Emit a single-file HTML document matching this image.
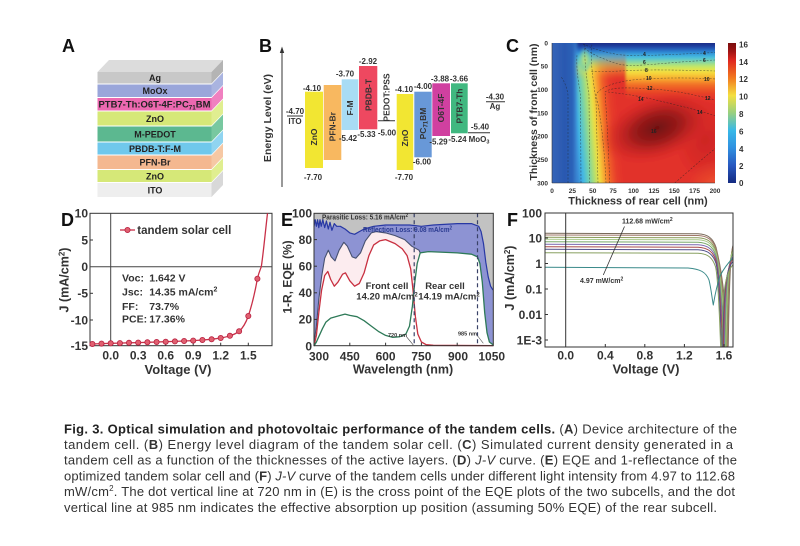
<!DOCTYPE html>
<html><head><meta charset="utf-8"><style>html,body{margin:0;padding:0;background:#fff;}svg{display:block}</style></head>
<body>
<svg width="800" height="546" viewBox="0 0 800 546" xmlns="http://www.w3.org/2000/svg" font-family="'Liberation Sans', Arial, sans-serif">
<defs>
  <linearGradient id="topg" gradientUnits="userSpaceOnUse" x1="0" y1="41" x2="0" y2="100">
    <stop offset="0" stop-color="#1a2a82"/><stop offset="0.062" stop-color="#1c3290"/>
    <stop offset="0.13" stop-color="#2458b8"/><stop offset="0.2" stop-color="#3090d8"/>
    <stop offset="0.28" stop-color="#48c0e0"/><stop offset="0.36" stop-color="#88d8a0"/>
    <stop offset="0.44" stop-color="#c8e860"/><stop offset="0.52" stop-color="#f4e040"/>
    <stop offset="0.63" stop-color="#f8b030"/><stop offset="0.74" stop-color="#f27028"/>
    <stop offset="0.87" stop-color="#e84428"/><stop offset="1" stop-color="#e2302a"/>
  </linearGradient>
  <linearGradient id="leftA" gradientUnits="userSpaceOnUse" x1="552" y1="0" x2="578" y2="0">
    <stop offset="0" stop-color="#3565b8"/><stop offset="0.5" stop-color="#2a58b0"/>
    <stop offset="0.8" stop-color="#2c62b8"/><stop offset="0.93" stop-color="#3a84d0" stop-opacity="0.8"/>
    <stop offset="1" stop-color="#3a84d0" stop-opacity="0"/>
  </linearGradient>
  <linearGradient id="leftB" gradientUnits="userSpaceOnUse" x1="569" y1="136" x2="621" y2="131.5">
    <stop offset="0" stop-color="#2c62b8"/><stop offset="0.108" stop-color="#3a8cd8"/>
    <stop offset="0.2" stop-color="#40b8e8"/><stop offset="0.31" stop-color="#70d0b0"/>
    <stop offset="0.415" stop-color="#b0e070"/><stop offset="0.51" stop-color="#f0e040"/>
    <stop offset="0.615" stop-color="#f8a030"/><stop offset="0.72" stop-color="#f06028"/>
    <stop offset="0.846" stop-color="#e63c2a"/><stop offset="1" stop-color="#e2302a"/>
  </linearGradient>
  <linearGradient id="mBg" gradientUnits="userSpaceOnUse" x1="0" y1="52" x2="0" y2="80">
    <stop offset="0" stop-color="#000"/><stop offset="1" stop-color="#fff"/>
  </linearGradient>
  <mask id="mB" maskUnits="userSpaceOnUse" x="540" y="30" width="200" height="170">
    <rect x="540" y="30" width="200" height="170" fill="url(#mBg)"/>
  </mask>
  <radialGradient id="core">
    <stop offset="0" stop-color="#6e1010" stop-opacity="1"/>
    <stop offset="0.4" stop-color="#9a1a1a" stop-opacity="0.95"/>
    <stop offset="0.75" stop-color="#c82424" stop-opacity="0.5"/>
    <stop offset="1" stop-color="#e2302a" stop-opacity="0"/>
  </radialGradient>
  <radialGradient id="rdark">
    <stop offset="0" stop-color="#c82222" stop-opacity="0.8"/>
    <stop offset="1" stop-color="#c82222" stop-opacity="0"/>
  </radialGradient>
  <radialGradient id="br">
    <stop offset="0" stop-color="#f06030" stop-opacity="0.7"/>
    <stop offset="1" stop-color="#f06030" stop-opacity="0"/>
  </radialGradient>
  <radialGradient id="hook">
    <stop offset="0" stop-color="#c8e470" stop-opacity="1"/>
    <stop offset="0.6" stop-color="#80d0a0" stop-opacity="0.8"/>
    <stop offset="1" stop-color="#50b8e0" stop-opacity="0"/>
  </radialGradient>
  <linearGradient id="cbar" x1="0" y1="0" x2="0" y2="1">
    <stop offset="0" stop-color="#7a0e0e"/><stop offset="0.06" stop-color="#a01414"/>
    <stop offset="0.125" stop-color="#e02820"/><stop offset="0.25" stop-color="#f27a20"/>
    <stop offset="0.375" stop-color="#f4e040"/><stop offset="0.5" stop-color="#98d080"/>
    <stop offset="0.625" stop-color="#38b8e8"/><stop offset="0.75" stop-color="#3090e0"/>
    <stop offset="0.875" stop-color="#2858c0"/><stop offset="1" stop-color="#142a80"/>
  </linearGradient>
  <clipPath id="cclip"><rect x="552" y="43" width="163" height="140"/></clipPath>
  <clipPath id="fclip"><rect x="545" y="213" width="188" height="134"/></clipPath>
  <filter id="bl" x="-5%" y="-5%" width="110%" height="110%"><feGaussianBlur stdDeviation="1.3"/></filter>
</defs>

<rect width="800" height="546" fill="#fff"/>

<!-- ============ PANEL A ============ -->
<text x="62" y="52" font-size="18" font-weight="bold" fill="#111">A</text>
<g>
  <polygon points="97.5,72 109,60 223,60 211.5,72" fill="#dcdcdc"/>
  <polygon points="211.5,72 223,60 223,71.5 211.5,83.5" fill="#b4b4b4"/>
  <polygon points="211.5,84.5 223,72.5 223,85 211.5,97" fill="#aab4e0"/>
  <polygon points="211.5,98 223,86 223,98.5 211.5,110.5" fill="#f080c0"/>
  <polygon points="211.5,111.5 223,99.5 223,113.5 211.5,125.5" fill="#e0ee90"/>
  <polygon points="211.5,126.5 223,114.5 223,129.5 211.5,141.5" fill="#78c8a0"/>
  <polygon points="211.5,142.5 223,130.5 223,142.5 211.5,154.5" fill="#90d4f0"/>
  <polygon points="211.5,155.5 223,143.5 223,157 211.5,169" fill="#f6c8a4"/>
  <polygon points="211.5,170 223,158 223,170 211.5,182" fill="#e0ee90"/>
  <polygon points="211.5,183 223,171 223,185 211.5,197" fill="#d8d8d8"/>
  <rect x="97.5" y="72" width="114" height="11.5" fill="#c8c8c8"/>
  <rect x="97.5" y="84.5" width="114" height="12.5" fill="#9aa6da"/>
  <rect x="97.5" y="98" width="114" height="12.5" fill="#ec68b0"/>
  <rect x="97.5" y="111.5" width="114" height="14" fill="#d6e878"/>
  <rect x="97.5" y="126.5" width="114" height="15" fill="#5cb890"/>
  <rect x="97.5" y="142.5" width="114" height="12" fill="#70c8ec"/>
  <rect x="97.5" y="155.5" width="114" height="13.5" fill="#f4b890"/>
  <rect x="97.5" y="170" width="114" height="12" fill="#d6e878"/>
  <rect x="97.5" y="183" width="114" height="14" fill="#eeeeee"/>
  <g font-size="9" font-weight="bold" fill="#222" text-anchor="middle">
    <text x="155" y="81">Ag</text>
    <text x="155" y="94">MoOx</text>
    <text x="154.5" y="107.5" textLength="112" lengthAdjust="spacingAndGlyphs">PTB7-Th:O6T-4F:PC<tspan font-size="6" dy="2">71</tspan><tspan dy="-2">BM</tspan></text>
    <text x="155" y="121.8">ZnO</text>
    <text x="155" y="137.3">M-PEDOT</text>
    <text x="155" y="151.8">PBDB-T:F-M</text>
    <text x="155" y="165.5">PFN-Br</text>
    <text x="155" y="179.3">ZnO</text>
    <text x="155" y="193.3">ITO</text>
  </g>
</g>

<!-- ============ PANEL B ============ -->
<text x="259" y="52" font-size="18" font-weight="bold" fill="#111">B</text>
<line x1="282" y1="187" x2="282" y2="51" stroke="#333" stroke-width="1"/>
<polygon points="279.8,53 282,46.5 284.2,53" fill="#333"/>
<text transform="translate(271,118) rotate(-90)" text-anchor="middle" font-size="10.5" font-weight="bold" fill="#333">Energy Level (eV)</text>
<rect x="305" y="91.7" width="18" height="76.3" fill="#f2e632"/>
<rect x="323.7" y="85" width="17.6" height="75" fill="#f8b860"/>
<rect x="341.7" y="79.3" width="16.6" height="50.7" fill="#a8dcf4"/>
<rect x="359" y="66" width="18.3" height="63.3" fill="#ee4860"/>
<rect x="396.7" y="94" width="16.6" height="76" fill="#f2e632"/>
<rect x="414.3" y="91.7" width="17.4" height="65.6" fill="#6898d8"/>
<rect x="432.3" y="83.3" width="17.7" height="52.7" fill="#d040a0"/>
<rect x="451" y="83.3" width="16.7" height="50" fill="#40b880"/>
<g stroke="#333" stroke-width="1">
  <line x1="287" y1="116" x2="303" y2="116"/>
  <line x1="378" y1="120.7" x2="395" y2="120.7"/>
  <line x1="468" y1="132.7" x2="490" y2="132.7"/>
  <line x1="486" y1="101.7" x2="505" y2="101.7"/>
</g>
<g font-size="8" font-weight="bold" fill="#333" text-anchor="middle">
  <text x="295" y="114">-4.70</text><text x="295" y="124">ITO</text>
  <text x="312" y="91">-4.10</text><text x="313" y="180">-7.70</text>
  <text x="345" y="76.5">-3.70</text><text x="348" y="141">-5.42</text>
  <text x="368" y="64">-2.92</text><text x="366.5" y="137">-5.33</text>
  <text x="387" y="135.5">-5.00</text>
  <text x="404" y="92">-4.10</text><text x="404" y="180">-7.70</text>
  <text x="423" y="89">-4.00</text><text x="422" y="164.5">-6.00</text>
  <text x="440" y="81.5">-3.88</text><text x="438.5" y="144.5">-5.29</text>
  <text x="459" y="81.5">-3.66</text><text x="457.5" y="142">-5.24</text>
  <text x="479" y="142">MoO<tspan font-size="5.5" dy="1.5">3</tspan></text>
  <text x="480" y="129.5">-5.40</text>
  <text x="495" y="99.5">-4.30</text><text x="495" y="109">Ag</text>
</g>
<g font-size="8.5" font-weight="bold" fill="#333" text-anchor="middle">
  <text transform="translate(317,137) rotate(-90)">ZnO</text>
  <text transform="translate(335.3,126.7) rotate(-90)">PFN-Br</text>
  <text transform="translate(353,108) rotate(-90)">F-M</text>
  <text transform="translate(371.3,95) rotate(-90)">PBDB-T</text>
  <text transform="translate(389.7,97.5) rotate(-90)">PEDOT:PSS</text>
  <text transform="translate(408,138) rotate(-90)">ZnO</text>
  <text transform="translate(426,123.5) rotate(-90)">PC<tspan font-size="6" dy="1.5">71</tspan><tspan dy="-1.5">BM</tspan></text>
  <text transform="translate(444,108) rotate(-90)">O6T-4F</text>
  <text transform="translate(462.3,106) rotate(-90)">PTB7-Th</text>
</g>

<!-- ============ PANEL C ============ -->
<text x="506" y="52" font-size="18" font-weight="bold" fill="#111">C</text>
<g clip-path="url(#cclip)">
  <g filter="url(#bl)">
    <rect x="545" y="36" width="180" height="155" fill="#e2302a"/>
    <rect x="545" y="36" width="180" height="64" fill="url(#topg)"/>
    <rect x="545" y="100" width="180" height="93" fill="#e2302a"/>
    <ellipse cx="705" cy="140" rx="30" ry="40" fill="url(#rdark)"/>
    <rect x="566" y="40" width="60" height="155" fill="url(#leftB)" mask="url(#mB)"/>
    <ellipse cx="585" cy="60" rx="7" ry="13" fill="url(#hook)"/>
    <rect x="545" y="36" width="33" height="155" fill="url(#leftA)"/>
    <ellipse cx="657" cy="128" rx="60" ry="34" fill="url(#core)" transform="rotate(-18 657 128)"/>
    <ellipse cx="718" cy="186" rx="32" ry="26" fill="url(#br)"/>
  </g>
  <g fill="none" stroke="#222" stroke-width="0.55" stroke-dasharray="2 1.5" opacity="0.65">
    <path d="M583,44 C592,48 600,51 615,54 S660,55 716,52.5"/>
    <path d="M584.7,48 C590,53 598,57 614.7,63 S660,62 716,60"/>
    <path d="M591.3,71.3 C600,72 610,71.5 630,70.5 S680,70 716,71"/>
    <path d="M606,183 C605,160 602,120 596,95 C600,86 620,80 648,78.7 S700,78 716,79"/>
    <path d="M609.7,183 C609,160 607,120 605,92 C610,88 620,87 648,88.7 S690,94 716,100"/>
    <path d="M608,92 C625,94 640,96 660,101 S690,108 716,116"/>
    <path d="M568,183 L568,95 C567,88 564,80 561,77"/>
    <path d="M581,183 L580.5,95 C579,85 576,70 577,55"/>
    <path d="M589.7,183 L589,95 C587,80 584,62 585,44"/>
    <path d="M598,183 L596,100 C593,80 590,60 592,44"/>
    <path d="M674.7,183 C690,170 703,158 716,148"/>
  </g>
  <g font-size="5" font-weight="bold" fill="#222">
    <text x="646" y="80">10</text><text x="647" y="90">12</text><text x="638" y="101">14</text>
    <text x="651" y="133">16</text><text x="704" y="81">10</text><text x="705" y="100">12</text>
    <text x="697" y="114">14</text><text x="643" y="56">4</text><text x="643" y="64">6</text>
    <text x="645" y="72">8</text><text x="703" y="55">4</text><text x="703" y="62">6</text>
  </g>
</g>
<rect x="728" y="43" width="8" height="140" fill="url(#cbar)"/>
<g font-size="8" font-weight="bold" fill="#333">
  <text x="739" y="47.5">16</text><text x="739" y="64.8">14</text><text x="739" y="82.2">12</text>
  <text x="739" y="99.6">10</text><text x="739" y="117">8</text><text x="739" y="134.4">6</text>
  <text x="739" y="151.8">4</text><text x="739" y="169.2">2</text><text x="739" y="186">0</text>
</g>
<g stroke="#333" stroke-width="0.6">
  <line x1="552" y1="43" x2="552" y2="183"/><line x1="552" y1="183" x2="715" y2="183"/>
</g>
<g font-size="6.5" font-weight="bold" fill="#333" text-anchor="end">
  <text x="548" y="45.3">0</text><text x="548" y="68.6">50</text><text x="548" y="92">100</text>
  <text x="548" y="115.3">150</text><text x="548" y="138.6">200</text><text x="548" y="162">250</text>
  <text x="548" y="185.3">300</text>
</g>
<g font-size="6.5" font-weight="bold" fill="#333" text-anchor="middle">
  <text x="552" y="193">0</text><text x="572.4" y="193">25</text><text x="592.8" y="193">50</text>
  <text x="613.1" y="193">75</text><text x="633.5" y="193">100</text><text x="653.9" y="193">125</text>
  <text x="674.3" y="193">150</text><text x="694.6" y="193">175</text><text x="715" y="193">200</text>
</g>
<text x="638" y="204.5" font-size="11" font-weight="bold" fill="#333" text-anchor="middle">Thickness of rear cell (nm)</text>
<text transform="translate(537,112) rotate(-90)" font-size="10.5" font-weight="bold" fill="#333" text-anchor="middle">Thickness of front cell (nm)</text>

<!-- ============ PANEL D ============ -->
<text x="61" y="226" font-size="18" font-weight="bold" fill="#111">D</text>
<rect x="90" y="213.3" width="182" height="132.4" fill="none" stroke="#333" stroke-width="1"/>
<line x1="90" y1="266.7" x2="272" y2="266.7" stroke="#444" stroke-width="1"/>
<line x1="110.7" y1="213.3" x2="110.7" y2="345.7" stroke="#444" stroke-width="1"/>
<g stroke="#333" stroke-width="1">
  <line x1="90" y1="240" x2="93" y2="240"/><line x1="90" y1="293.3" x2="93" y2="293.3"/><line x1="90" y1="320" x2="93" y2="320"/>
  <line x1="138.2" y1="345.7" x2="138.2" y2="342.7"/><line x1="165.7" y1="345.7" x2="165.7" y2="342.7"/>
  <line x1="193.2" y1="345.7" x2="193.2" y2="342.7"/><line x1="220.7" y1="345.7" x2="220.7" y2="342.7"/>
  <line x1="248.3" y1="345.7" x2="248.3" y2="342.7"/>
</g>
<g font-size="12" font-weight="bold" fill="#333" text-anchor="end">
  <text x="88" y="217.6">10</text><text x="88" y="244.3">5</text><text x="88" y="271">0</text>
  <text x="88" y="297.6">-5</text><text x="88" y="324.3">-10</text><text x="88" y="350">-15</text>
</g>
<g font-size="12" font-weight="bold" fill="#333" text-anchor="middle">
  <text x="110.7" y="359.5">0.0</text><text x="138.2" y="359.5">0.3</text><text x="165.7" y="359.5">0.6</text>
  <text x="193.2" y="359.5">0.9</text><text x="220.7" y="359.5">1.2</text><text x="248.3" y="359.5">1.5</text>
</g>
<text x="178" y="374" font-size="13" font-weight="bold" fill="#333" text-anchor="middle">Voltage (V)</text>
<text transform="translate(68.5,280) rotate(-90)" font-size="12.5" font-weight="bold" fill="#333" text-anchor="middle">J (mA/cm<tspan font-size="8" dy="-4">2</tspan><tspan dy="4">)</tspan></text>
<path d="M92.4,344 L101.5,343.6 L110.7,343.3 L119.9,343.1 L129,342.8 L138.2,342.6 L147.4,342.3 L156.6,342 L165.7,341.7 L174.9,341.4 L184.1,341 L193.2,340.6 L202.4,340 L211.6,339.3 L220.7,338 C225,337.2 227.5,336.7 229.9,335.8 C234,334.5 236.5,333.3 239.1,331.3 C243.5,327.5 246,322.5 248.3,316 C252,305 255,292 257.4,278.7 C259,272 260.3,269.5 261.3,266.7 C263,256 265,235 267.5,213.3" fill="none" stroke="#c83048" stroke-width="1.3"/>
<g fill="#e06070" stroke="#b82040" stroke-width="0.8">
  <circle cx="92.4" cy="344" r="2.6"/><circle cx="101.5" cy="343.6" r="2.6"/><circle cx="110.7" cy="343.3" r="2.6"/>
  <circle cx="119.9" cy="343.1" r="2.6"/><circle cx="129" cy="342.8" r="2.6"/><circle cx="138.2" cy="342.6" r="2.6"/>
  <circle cx="147.4" cy="342.3" r="2.6"/><circle cx="156.6" cy="342" r="2.6"/><circle cx="165.7" cy="341.7" r="2.6"/>
  <circle cx="174.9" cy="341.4" r="2.6"/><circle cx="184.1" cy="341" r="2.6"/><circle cx="193.2" cy="340.6" r="2.6"/>
  <circle cx="202.4" cy="340" r="2.6"/><circle cx="211.6" cy="339.3" r="2.6"/><circle cx="220.7" cy="338" r="2.6"/>
  <circle cx="229.9" cy="335.8" r="2.6"/><circle cx="239.1" cy="331.3" r="2.6"/><circle cx="248.3" cy="316" r="2.6"/>
  <circle cx="257.4" cy="278.7" r="2.6"/>
</g>
<line x1="120" y1="230" x2="135" y2="230" stroke="#c83048" stroke-width="1.3"/>
<circle cx="127.5" cy="230" r="2.6" fill="#e06070" stroke="#b82040" stroke-width="0.8"/>
<text x="137.3" y="234" font-size="11.5" font-weight="bold" fill="#333" textLength="94" lengthAdjust="spacingAndGlyphs">tandem solar cell</text>
<g font-size="10.5" font-weight="bold" fill="#333">
  <text x="122" y="281.7">Voc:</text><text x="149.3" y="281.7">1.642 V</text>
  <text x="122" y="295.7">Jsc:</text><text x="149.3" y="295.7">14.35 mA/cm<tspan font-size="7" dy="-4">2</tspan></text>
  <text x="122" y="310">FF:</text><text x="149.3" y="310">73.7%</text>
  <text x="122" y="322.7">PCE:</text><text x="149.3" y="322.7">17.36%</text>
</g>

<!-- ============ PANEL E ============ -->
<text x="281" y="226" font-size="18" font-weight="bold" fill="#111">E</text>
<rect x="314" y="213.3" width="179.3" height="132.4" fill="#c2c2c2"/>
<polygon fill="#8d93d3" points="314,226.3 315.2,219.7 316.4,226.3 317.6,219.7 318.8,227.6 320,219.7 321.2,226.3 322.8,219.7 324.7,227.6 326.4,221 328.3,229 330,222.3 331.9,230.3 334.3,223.6 336.7,226.3 340.3,226.3 345,229 349.8,232.9 354.6,234.3 359.3,231.6 364.1,229 373.7,226.3 385.6,225 409.5,225 421.4,226.3 433.3,225 457.2,223.6 471.5,223.6 478.7,226.3 481.1,231.6 483.5,243.6 485.8,262.2 488.2,276.8 490.6,286.2 493,290.1 493,346 314,346"/>
<polygon fill="#fcecef" points="314,343.3 316.4,326.1 318.8,299.5 321.6,276.8 324.7,258.2 328.3,250.2 331.2,256.9 335,260.9 339.1,250.2 343.8,242.3 347.4,246.3 352.2,256.9 355.8,258.2 360.5,252.9 365.3,240.9 371.3,232.9 376.1,231.6 385.6,232.9 395.1,235.6 404.7,239.6 411.9,246.3 419,250.2 420.2,252.9 428.5,251.6 457.2,252.9 471.5,254.2 477.5,256.9 479.9,263.5 482.3,282.2 484.7,312.8 487,332.7 489.4,342 493,344.7 493,346 314,346"/>
<polygon fill="#ffffff" points="314,346 316.4,335.4 318.8,312.8 321.6,290.1 324.7,275.5 327.8,271.5 330.7,279.5 334.3,286.2 337.9,282.2 342.6,274.2 345.5,272.9 349.8,280.8 354.6,286.2 359.3,283.5 364.1,272.9 368.9,255.6 373.7,244.9 379.6,240.9 385.6,239.6 395.1,243.6 402.3,248.9 407.1,255.6 410.7,268.9 413,290.1 415.4,316.7 417.8,334 421.4,342 426.2,344.7 433.3,345.3 493,345.6 493,346"/>
<polygon fill="#ffffff" points="405.9,346 405.9,334 409.5,326.1 412.4,306.1 414.8,282.2 417.2,263.5 420.2,252.9 428.5,251.6 457.2,252.9 471.5,254.2 477.5,256.9 479.9,263.5 482.3,282.2 484.7,312.8 487,332.7 489.4,342 493,344.7 493,346"/>
<g fill="none" stroke-linejoin="round">
  <polyline stroke="#2838a4" stroke-width="1.2" points="314,226.3 315.2,219.7 316.4,226.3 317.6,219.7 318.8,227.6 320,219.7 321.2,226.3 322.8,219.7 324.7,227.6 326.4,221 328.3,229 330,222.3 331.9,230.3 334.3,223.6 336.7,226.3 340.3,226.3 345,229 349.8,232.9 354.6,234.3 359.3,231.6 364.1,229 373.7,226.3 385.6,225 409.5,225 421.4,226.3 433.3,225 457.2,223.6 471.5,223.6 478.7,226.3 481.1,231.6 483.5,243.6 485.8,262.2 488.2,276.8 490.6,286.2 493,290.1"/>
  <polyline stroke="#465070" stroke-width="1.1" points="314,343.3 316.4,326.1 318.8,299.5 321.6,276.8 324.7,258.2 328.3,250.2 331.2,256.9 335,260.9 339.1,250.2 343.8,242.3 347.4,246.3 352.2,256.9 355.8,258.2 360.5,252.9 365.3,240.9 371.3,232.9 376.1,231.6 385.6,232.9 395.1,235.6 404.7,239.6 411.9,246.3 419,250.2 420.2,252.9"/>
  <polyline stroke="#c83040" stroke-width="1.3" points="314,346 316.4,335.4 318.8,312.8 321.6,290.1 324.7,275.5 327.8,271.5 330.7,279.5 334.3,286.2 337.9,282.2 342.6,274.2 345.5,272.9 349.8,280.8 354.6,286.2 359.3,283.5 364.1,272.9 368.9,255.6 373.7,244.9 379.6,240.9 385.6,239.6 395.1,243.6 402.3,248.9 407.1,255.6 410.7,268.9 413,290.1 415.4,316.7 417.8,334 421.4,342 426.2,344.7 433.3,345.3 493,345.6"/>
  <polyline stroke="#2e7a58" stroke-width="1.3" points="314,346 316.4,342 318.8,336.7 322.4,328.7 325.9,322.1 330.7,318.1 335.5,316.7 340.3,315.4 345,314.1 349.8,315.4 357,316.7 364.1,320.7 371.3,326.1 378.4,331.4 385.6,335.4 392.8,337.4 399.9,336.7 405.9,334 409.5,326.1 412.4,306.1 414.8,282.2 417.2,263.5 420.2,252.9 428.5,251.6 457.2,252.9 471.5,254.2 477.5,256.9 479.9,263.5 482.3,282.2 484.7,312.8 487,332.7 489.4,342 493,344.7"/>
</g>
<g stroke="#3a4268" stroke-width="1.2" stroke-dasharray="4 3">
  <line x1="414.2" y1="213.3" x2="414.2" y2="345.7"/>
  <line x1="477.5" y1="213.3" x2="477.5" y2="345.7"/>
</g>
<rect x="314" y="213.3" width="179.3" height="132.4" fill="none" stroke="#333" stroke-width="1"/>
<g stroke="#333" stroke-width="1">
  <line x1="314" y1="239.6" x2="317" y2="239.6"/><line x1="314" y1="266.2" x2="317" y2="266.2"/>
  <line x1="314" y1="292.8" x2="317" y2="292.8"/><line x1="314" y1="319.4" x2="317" y2="319.4"/>
  <line x1="349.8" y1="345.7" x2="349.8" y2="342.7"/><line x1="385.6" y1="345.7" x2="385.6" y2="342.7"/>
  <line x1="421.4" y1="345.7" x2="421.4" y2="342.7"/><line x1="457.2" y1="345.7" x2="457.2" y2="342.7"/>
</g>
<g font-size="7" font-weight="bold">
  <text x="322" y="219.5" fill="#333" textLength="86" lengthAdjust="spacingAndGlyphs">Parasitic Loss: 5.16 mA/cm<tspan font-size="5" dy="-2.5">2</tspan></text>
  <text x="363" y="232" fill="#2a3a90" textLength="89" lengthAdjust="spacingAndGlyphs">Reflection Loss: 9.08 mA/cm<tspan font-size="5" dy="-2.5">2</tspan></text>
</g>
<g font-size="9.5" font-weight="bold" fill="#333" text-anchor="middle">
  <text x="387" y="289">Front cell</text>
  <text x="387" y="299.5">14.20 mA/cm<tspan font-size="6" dy="-3">2</tspan></text>
  <text x="445" y="289">Rear cell</text>
  <text x="449" y="299.5">14.19 mA/cm<tspan font-size="6" dy="-3">2</tspan></text>
</g>
<g font-size="5.5" font-weight="bold" fill="#333">
  <text x="388" y="337">720 nm</text>
  <text x="458" y="335.5">985 nm</text>
</g>
<g stroke="#555" stroke-width="0.6">
  <line x1="406.7" y1="337" x2="413.3" y2="345"/>
  <line x1="477.3" y1="335.5" x2="483.3" y2="343.3"/>
</g>
<g font-size="12" font-weight="bold" fill="#333" text-anchor="end">
  <text x="312" y="217.5">100</text><text x="312" y="244">80</text><text x="312" y="270.5">60</text>
  <text x="312" y="297">40</text><text x="312" y="323.7">20</text><text x="312" y="350.3">0</text>
</g>
<g font-size="12" font-weight="bold" fill="#333" text-anchor="middle">
  <text x="319" y="360.5">300</text><text x="349.8" y="360.5">450</text><text x="385.6" y="360.5">600</text>
  <text x="421.4" y="360.5">750</text><text x="458" y="360.5">900</text><text x="491.7" y="360.5">1050</text>
</g>
<text x="403" y="373.5" font-size="12.5" font-weight="bold" fill="#333" text-anchor="middle">Wavelength (nm)</text>
<text transform="translate(291.5,277) rotate(-90)" font-size="12" font-weight="bold" fill="#333" text-anchor="middle">1-R, EQE (%)</text>

<!-- ============ PANEL F ============ -->
<text x="507" y="226" font-size="18" font-weight="bold" fill="#111">F</text>
<g clip-path="url(#fclip)" fill="none" stroke-width="1" stroke-linejoin="round">
  <path stroke="#7a6a5a" d="M545,233.3 L698,233.8 C708,234.3 713,238.3 716,247.3 C718,255.3 725.5,283.3 727,346 L728.2,346 C729,300 730,255.3 733,245.3"/>
  <path stroke="#a07868" d="M545,235 L698,235.5 C708,236 713,240 716,249 C718,257 724.7,285 726.2,346 L727.4,346 C728.2,300 729.2,257 733,247"/>
  <path stroke="#8a9a58" d="M545,237.3 L698,237.8 C708,238.3 713,242.3 716,251.3 C718,259.3 723.9,287.3 725.4,346 L726.6,346 C727.4,300 728.4,259.3 733,249.3"/>
  <path stroke="#a8c888" d="M545,239.3 L698,239.8 C708,240.3 713,244.3 716,253.3 C718,261.3 723.1,289.3 724.6,346 L725.8,346 C726.6,300 727.6,261.3 733,251.3"/>
  <path stroke="#78a868" d="M545,241.7 L698,242.2 C708,242.7 713,246.7 716,255.7 C718,263.7 722.3,291.7 723.8,346 L725,346 C725.8,300 726.8,263.7 733,253.7"/>
  <path stroke="#7a68b0" d="M545,244.3 L698,244.8 C708,245.3 713,249.3 716,258.3 C718,266.3 721.5,294.3 723,346 L724.2,346 C725,300 726,266.3 733,256.3"/>
  <path stroke="#a84848" d="M545,246.7 L698,247.2 C708,247.7 713,251.7 716,260.7 C718,268.7 720.7,296.7 722.2,346 L723.4,346 C724.2,300 725.2,268.7 733,258.7"/>
  <path stroke="#50508a" d="M545,249.3 L698,249.8 C708,250.3 713,254.3 716,263.3 C718,271.3 719.9,299.3 721.4,346 L722.6,346 C723.4,300 724.4,271.3 733,261.3"/>
  <path stroke="#88a060" d="M545,252.7 L698,253.2 C708,253.7 712.5,257.7 715.5,266.7 C717.5,274.7 719.1,302.7 720.6,346 L721.8,346 C722.6,300 723.6,274.7 733,264.7"/>
  <path stroke="#3a8a8a" d="M545,267.3 L688,268 C700,269 706,272 709,280 C711,288 712,298 713.3,305 C714.5,298 716,288 720,276 C724,268 729,262 733,258"/>
</g>
<rect x="545" y="213" width="188" height="134" fill="none" stroke="#333" stroke-width="1"/>
<line x1="565.7" y1="213" x2="565.7" y2="347" stroke="#333" stroke-width="1"/>
<g stroke="#333" stroke-width="1">
  <line x1="545" y1="238" x2="548" y2="238"/><line x1="545" y1="263.5" x2="548" y2="263.5"/>
  <line x1="545" y1="289" x2="548" y2="289"/><line x1="545" y1="314.5" x2="548" y2="314.5"/>
  <line x1="545" y1="340" x2="548" y2="340"/>
  <line x1="605.3" y1="347" x2="605.3" y2="344"/><line x1="644.8" y1="347" x2="644.8" y2="344"/>
  <line x1="684.4" y1="347" x2="684.4" y2="344"/><line x1="724" y1="347" x2="724" y2="344"/>
</g>
<line x1="603.3" y1="275" x2="624.5" y2="226.5" stroke="#333" stroke-width="0.8"/>
<g font-size="7" font-weight="bold" fill="#333">
  <text x="622" y="223.5">112.68 mW/cm<tspan font-size="5" dy="-2.5">2</tspan></text>
  <text x="580" y="283">4.97 mW/cm<tspan font-size="5" dy="-2.5">2</tspan></text>
</g>
<g font-size="12" font-weight="bold" fill="#333" text-anchor="end">
  <text x="542" y="217.3">100</text><text x="542" y="242.3">10</text><text x="542" y="267.8">1</text>
  <text x="542" y="293.3">0.1</text><text x="542" y="318.8">0.01</text><text x="542" y="344.3">1E-3</text>
</g>
<g font-size="12" font-weight="bold" fill="#333" text-anchor="middle">
  <text x="565.7" y="359.5">0.0</text><text x="605.3" y="359.5">0.4</text><text x="644.8" y="359.5">0.8</text>
  <text x="684.4" y="359.5">1.2</text><text x="724" y="359.5">1.6</text>
</g>
<text x="646" y="373.5" font-size="13" font-weight="bold" fill="#333" text-anchor="middle">Voltage (V)</text>
<text transform="translate(514,278) rotate(-90)" font-size="12.5" font-weight="bold" fill="#333" text-anchor="middle">J (mA/cm<tspan font-size="8" dy="-4">2</tspan><tspan dy="4">)</tspan></text>

<!-- ============ CAPTION ============ -->
<g font-size="13" fill="#333">
  <text x="64" y="433.3" textLength="673" lengthAdjust="spacing"><tspan font-weight="bold" fill="#222">Fig. 3. Optical simulation and photovoltaic performance of the tandem cells.</tspan> (<tspan font-weight="bold">A</tspan>) Device architecture of the</text>
  <text x="64" y="449" textLength="669" lengthAdjust="spacing">tandem cell. (<tspan font-weight="bold">B</tspan>) Energy level diagram of the tandem solar cell. (<tspan font-weight="bold">C</tspan>) Simulated current density generated in a</text>
  <text x="64" y="464.7" textLength="673" lengthAdjust="spacing">tandem cell as a function of the thicknesses of the active layers. (<tspan font-weight="bold">D</tspan>) <tspan font-style="italic">J-V</tspan> curve. (<tspan font-weight="bold">E</tspan>) EQE and 1-reflectance of the</text>
  <text x="64" y="480.4" textLength="671" lengthAdjust="spacing">optimized tandem solar cell and (<tspan font-weight="bold">F</tspan>) <tspan font-style="italic">J-V</tspan> curve of the tandem cells under different light intensity from 4.97 to 112.68</text>
  <text x="64" y="496.1" textLength="671" lengthAdjust="spacing">mW/cm<tspan font-size="8" dy="-5">2</tspan><tspan dy="5">. The dot vertical line at 720 nm in (E) is the cross point of the EQE plots of the two subcells, and the dot</tspan></text>
  <text x="64" y="511.8" textLength="653" lengthAdjust="spacing">vertical line at 985 nm indicates the effective absorption up position (assuming 50% EQE) of the rear subcell.</text>
</g>
</svg>
</body></html>
